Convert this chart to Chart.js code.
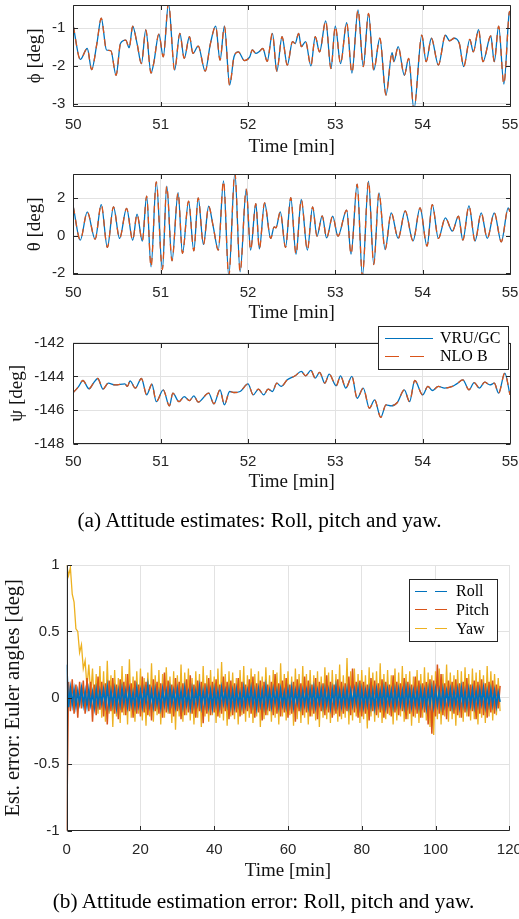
<!DOCTYPE html>
<html><head><meta charset="utf-8">
<script src="https://cdn.jsdelivr.net/npm/chart.js@4.4.1/dist/chart.umd.min.js"></script>
<style>
html,body{margin:0;padding:0;background:#fff;width:519px;height:919px;overflow:hidden}
canvas{position:absolute;left:0}
.cap{position:absolute;width:519px;text-align:center;font-family:"Liberation Serif","Times New Roman",serif;font-size:21.3px;color:#000;line-height:24px;white-space:nowrap}
</style></head><body>
<canvas id="c1" width="519" height="165" style="top:0"></canvas>
<canvas id="c2" width="519" height="165" style="top:160px"></canvas>
<canvas id="c3" width="519" height="170" style="top:325px"></canvas>
<div class="cap" style="left:0;top:508px">(a) Attitude estimates: Roll, pitch and yaw.</div>
<canvas id="c4" width="519" height="345" style="top:540px"></canvas>
<div class="cap" style="left:4px;top:889px">(b) Attitude estimation error: Roll, pitch and yaw.</div>
<script>
// ---------- data: attitude estimates ----------
const timeTicks = [50, 51, 52, 53, 54, 55];
const phiTicks = [-3, -2, -1];
const thetaTicks = [-2, 0, 2];
const psiTicks = [-148, -146, -144, -142];

const phiTime = [50.00,50.08,50.16,50.21,50.27,50.32,50.38,50.43,50.49,50.54,50.60,50.64,50.68,50.73,50.78,50.83,50.89,50.92,50.98,51.03,51.09,51.16,51.22,51.27,51.33,51.37,51.43,51.51,51.57,51.63,51.68,51.73,51.79,51.84,51.89,51.96,52.02,52.05,52.09,52.13,52.17,52.22,52.28,52.33,52.39,52.45,52.51,52.54,52.58,52.61,52.66,52.72,52.77,52.82,52.89,52.95,53.00,53.06,53.13,53.19,53.26,53.32,53.38,53.44,53.51,53.58,53.65,53.67,53.72,53.79,53.84,53.90,53.99,54.04,54.10,54.18,54.26,54.31,54.36,54.42,54.47,54.54,54.58,54.64,54.69,54.78,54.82,54.87,54.93,54.99,55.00];
const phiVru = [-0.95,-1.83,-1.54,-2.10,-1.41,-0.74,-1.58,-1.60,-2.25,-1.41,-1.32,-1.52,-0.95,-1.41,-1.94,-1.05,-2.19,-1.94,-1.16,-1.76,-0.35,-2.11,-1.14,-1.80,-1.23,-1.67,-1.48,-2.14,-1.41,-0.95,-1.85,-0.95,-2.51,-1.76,-1.63,-1.86,-1.76,-1.58,-1.67,-1.62,-1.54,-1.88,-1.14,-2.14,-1.23,-1.98,-1.36,-1.41,-1.14,-1.49,-1.36,-2.00,-1.23,-1.63,-0.81,-2.07,-0.95,-1.94,-0.86,-2.19,-0.52,-2.02,-0.61,-2.11,-1.27,-2.77,-1.65,-1.89,-1.49,-2.25,-1.80,-3.15,-1.19,-1.89,-1.27,-1.98,-1.19,-1.34,-1.27,-1.41,-2.02,-1.30,-1.63,-1.04,-1.89,-1.21,-1.89,-0.95,-2.48,-0.61,-0.55];
const phiNlo = phiVru.slice();

const thetaTime = [50.00,50.08,50.16,50.25,50.32,50.39,50.46,50.53,50.61,50.68,50.73,50.79,50.84,50.89,50.95,51.02,51.07,51.13,51.20,51.25,51.32,51.38,51.43,51.49,51.55,51.60,51.66,51.72,51.78,51.85,51.91,51.98,52.03,52.09,52.13,52.19,52.26,52.30,52.32,52.37,52.43,52.49,52.55,52.61,52.68,52.74,52.79,52.85,52.90,52.97,53.03,53.13,53.18,53.25,53.31,53.38,53.44,53.50,53.57,53.64,53.72,53.80,53.89,53.97,54.05,54.11,54.18,54.26,54.34,54.41,54.46,54.53,54.60,54.67,54.74,54.82,54.90,54.98,55.00];
const thetaVru = [1.55,-0.23,1.28,-0.18,1.67,-0.62,1.55,-0.14,1.46,-0.23,1.16,-0.28,2.12,-1.65,2.88,-1.80,2.65,-1.33,2.31,-0.94,1.85,-0.80,2.03,-0.46,1.58,0.55,-0.76,2.93,-2.15,3.35,-1.92,2.49,-0.76,1.72,-0.70,1.76,-0.14,0.48,0.43,1.28,-0.62,2.04,-0.98,1.94,-0.76,1.55,-0.02,1.07,-0.11,1.05,-0.02,1.37,-0.98,2.76,-2.15,2.92,-1.53,2.29,-0.73,1.23,-0.14,1.33,-0.27,1.49,-0.55,1.67,-0.14,0.96,0.25,1.05,-0.23,1.60,-0.28,1.23,-0.14,1.23,-0.32,1.49,1.28];
const thetaNlo = thetaVru.slice();

const psiTime = [50.00,50.06,50.11,50.18,50.23,50.28,50.34,50.40,50.48,50.59,50.62,50.65,50.71,50.78,50.84,50.90,50.95,51.03,51.10,51.14,51.21,51.27,51.33,51.38,51.43,51.55,51.61,51.68,51.73,51.79,51.84,51.91,52.00,52.06,52.12,52.18,52.23,52.28,52.33,52.38,52.45,52.51,52.54,52.61,52.66,52.72,52.77,52.82,52.88,52.93,53.01,53.06,53.12,53.19,53.25,53.32,53.39,53.45,53.52,53.58,53.64,53.71,53.79,53.85,53.91,54.00,54.06,54.11,54.18,54.25,54.34,54.39,54.46,54.53,54.59,54.65,54.71,54.77,54.82,54.87,54.94,55.00];
const psiVru = [-144.95,-144.60,-144.24,-144.73,-144.40,-144.12,-144.75,-144.40,-144.50,-144.44,-144.59,-144.26,-144.69,-144.12,-145.09,-144.46,-145.49,-144.79,-145.74,-144.99,-145.49,-145.19,-145.43,-145.15,-145.52,-144.99,-145.62,-144.79,-145.68,-144.89,-144.95,-144.89,-144.44,-145.09,-144.75,-145.09,-144.75,-144.89,-144.40,-144.59,-144.20,-144.04,-143.96,-143.70,-143.96,-143.64,-144.10,-143.76,-144.40,-143.86,-144.55,-143.96,-144.69,-144.00,-145.29,-144.69,-145.88,-145.39,-146.42,-145.68,-145.74,-145.54,-144.79,-145.49,-144.24,-145.09,-144.59,-144.83,-144.59,-144.69,-144.59,-144.44,-144.20,-144.79,-144.36,-144.69,-144.34,-144.50,-144.40,-144.99,-143.80,-145.09];
const psiNlo = psiVru.slice();

// ---------- data: estimation error (alternating upper / lower samples every 0.5 min) ----------
const errTicksX = [0, 20, 40, 60, 80, 100, 120];
const errTicksY = [-1, -0.5, 0, 0.5, 1];
const rollErr = [
0.25,-0.07,0.07,-0.05,0.06,-0.06,0.05,-0.04,0.07,-0.05,
0.05,-0.06,0.06,-0.05,0.04,-0.07,0.06,-0.05,0.05,-0.04,
0.06,-0.05,0.08,-0.06,0.05,-0.05,0.06,-0.07,0.05,-0.05,
0.07,-0.04,0.05,-0.06,0.06,-0.05,0.04,-0.06,0.07,-0.05,
0.05,-0.06,0.06,-0.04,0.09,-0.05,0.05,-0.06,0.06,-0.05,
0.04,-0.07,0.06,-0.05,0.05,-0.06,0.07,-0.04,0.05,-0.06,
0.06,-0.05,0.05,-0.06,0.07,-0.05,0.04,-0.07,0.06,-0.05,
0.05,-0.04,0.08,-0.06,0.05,-0.05,0.06,-0.06,0.05,-0.07,
0.06,-0.05,0.05,-0.06,0.07,-0.04,0.05,-0.05,0.06,-0.06,
0.05,-0.06,0.06,-0.05,0.04,-0.06,0.07,-0.05,0.05,-0.04,
0.07,-0.05,0.05,-0.07,0.06,-0.05,0.05,-0.06,0.08,-0.05,
0.05,-0.06,0.06,-0.04,0.05,-0.06,0.06,-0.05,0.04,-0.06,
0.06,-0.05,0.07,-0.06,0.05,-0.04,0.06,-0.06,0.05,-0.05,
0.05,-0.06,0.06,-0.05,0.07,-0.06,0.05,-0.04,0.06,-0.06,
0.06,-0.05,0.05,-0.07,0.06,-0.05,0.08,-0.05,0.05,-0.06,
0.05,-0.05,0.06,-0.06,0.05,-0.05,0.06,-0.04,0.07,-0.06,
0.06,-0.06,0.05,-0.05,0.06,-0.06,0.05,-0.07,0.06,-0.05,
0.05,-0.05,0.07,-0.06,0.06,-0.04,0.05,-0.06,0.06,-0.05,
0.06,-0.05,0.05,-0.06,0.07,-0.05,0.06,-0.06,0.05,-0.05,
0.05,-0.06,0.06,-0.05,0.05,-0.07,0.06,-0.05,0.07,-0.06,
0.06,-0.05,0.05,-0.06,0.06,-0.05,0.05,-0.04,0.06,-0.06,
0.05,-0.05,0.06,-0.06,0.07,-0.05,0.05,-0.06,0.06,-0.05,
0.06,-0.06,0.05,-0.05,0.06,-0.04,0.07,-0.06,0.05,-0.05,
0.06,-0.05,0.05,-0.06,0.04,-0.03];
const pitchErr = [
-1.0,0.12,-0.10,0.14,-0.12,0.10,-0.15,0.12,-0.08,0.13,
-0.12,0.15,-0.10,0.12,-0.18,0.10,-0.13,0.16,-0.09,0.12,
-0.14,0.11,-0.20,0.13,-0.10,0.15,-0.12,0.10,-0.16,0.14,
-0.11,0.12,-0.13,0.18,-0.10,0.11,-0.15,0.13,-0.12,0.10,
-0.14,0.16,-0.11,0.12,-0.13,0.10,-0.17,0.14,-0.10,0.12,
-0.12,0.11,-0.15,0.19,-0.11,0.13,-0.12,0.10,-0.14,0.15,
-0.10,0.12,-0.16,0.11,-0.13,0.14,-0.11,0.17,-0.12,0.10,
-0.15,0.13,-0.10,0.12,-0.19,0.11,-0.12,0.15,-0.13,0.12,
-0.11,0.14,-0.14,0.10,-0.12,0.16,-0.10,0.12,-0.16,0.13,
-0.13,0.11,-0.11,0.15,-0.14,0.12,-0.12,0.10,-0.10,0.14,
-0.12,0.16,-0.15,0.11,-0.11,0.13,-0.17,0.12,-0.13,0.10,
-0.10,0.12,-0.13,0.18,-0.12,0.11,-0.14,0.13,-0.11,0.15,
-0.15,0.10,-0.12,0.12,-0.18,0.14,-0.10,0.11,-0.13,0.16,
-0.11,0.13,-0.14,0.10,-0.12,0.15,-0.16,0.12,-0.10,0.11,
-0.13,0.17,-0.11,0.12,-0.15,0.10,-0.12,0.14,-0.14,0.12,
-0.12,0.11,-0.10,0.16,-0.13,0.22,-0.11,0.12,-0.15,0.13,
-0.14,0.12,-0.12,0.10,-0.17,0.15,-0.10,0.13,-0.13,0.11,
-0.11,0.14,-0.15,0.12,-0.12,0.10,-0.14,0.17,-0.11,0.12,
-0.13,0.11,-0.10,0.15,-0.16,0.12,-0.12,0.10,-0.14,0.16,
-0.12,0.13,-0.15,0.11,-0.11,0.12,-0.20,0.14,-0.27,0.13,
-0.14,0.25,-0.12,0.18,-0.13,0.11,-0.16,0.13,-0.10,0.12,
-0.12,0.14,-0.13,0.11,-0.15,0.12,-0.11,0.15,-0.14,0.10,
-0.10,0.13,-0.16,0.12,-0.12,0.14,-0.13,0.11,-0.15,0.12,
-0.11,0.13,-0.12,0.10,-0.08,0.09];
const yawErr = [
1.00,0.92,0.98,0.78,0.72,0.52,0.50,0.34,0.40,0.22,
0.28,0.08,0.25,0.02,0.22,-0.08,0.18,-0.12,0.24,-0.15,
0.20,-0.18,0.28,-0.12,0.17,-0.22,0.21,-0.14,0.15,-0.19,
0.24,-0.13,0.18,-0.20,0.29,-0.15,0.16,-0.18,0.20,-0.12,
0.22,-0.17,0.15,-0.21,0.19,-0.14,0.26,-0.18,0.17,-0.13,
0.21,-0.20,0.18,-0.15,0.23,-0.12,0.16,-0.19,0.20,-0.24,
0.17,-0.14,0.25,-0.18,0.19,-0.13,0.22,-0.17,0.15,-0.20,
0.20,-0.15,0.18,-0.22,0.24,-0.14,0.17,-0.18,0.21,-0.13,
0.16,-0.19,0.22,-0.15,0.27,-0.17,0.18,-0.21,0.20,-0.14,
0.19,-0.16,0.15,-0.20,0.21,-0.13,0.24,-0.18,0.17,-0.15,
0.22,-0.19,0.18,-0.14,0.20,-0.22,0.16,-0.16,0.23,-0.13,
0.17,-0.18,0.21,-0.15,0.19,-0.20,0.26,-0.14,0.18,-0.17,
0.20,-0.13,0.16,-0.21,0.22,-0.16,0.18,-0.19,0.24,-0.15,
0.18,-0.20,0.21,-0.14,0.17,-0.17,0.20,-0.22,0.16,-0.15,
0.23,-0.16,0.19,-0.19,0.21,-0.13,0.18,-0.18,0.25,-0.16,
0.17,-0.15,0.30,-0.20,0.20,-0.17,0.22,-0.14,0.18,-0.19,
0.21,-0.16,0.17,-0.23,0.23,-0.14,0.19,-0.18,0.20,-0.15,
0.26,-0.19,0.18,-0.16,0.21,-0.13,0.17,-0.20,0.22,-0.17,
0.19,-0.14,0.24,-0.18,0.18,-0.16,0.20,-0.21,0.16,-0.15,
0.21,-0.19,0.18,-0.15,0.23,-0.17,0.19,-0.22,0.17,-0.28,
0.20,-0.16,0.22,-0.20,0.18,-0.14,0.25,-0.18,0.19,-0.16,
0.17,-0.21,0.21,-0.15,0.20,-0.18,0.23,-0.14,0.18,-0.17,
0.22,-0.16,0.19,-0.20,0.21,-0.15,0.17,-0.19,0.24,-0.14,
0.20,-0.17,0.18,-0.13,0.15,-0.10];
const errTime = rollErr.map((_, i) => i * 0.5);

// ---------- styling ----------
const BLUE = '#0072BD', ORANGE = '#D95319', YELLOW = '#EDB120', AXIS = '#262626', GRID = '#e2e2e2';
const TICK_FONT = {family: '"Liberation Sans", Arial, sans-serif', size: 15};
const TITLE_FONT = {family: '"Liberation Serif", "Times New Roman", serif', size: 19};
const LEG_FONT = '16px "Liberation Serif", "Times New Roman", serif';

const deco = {
  id: 'deco',
  afterDatasetsDraw(chart, args, o) {
    const {ctx, chartArea: a, scales: {x, y}} = chart;
    const L = Math.round(a.left) + 0.5, R = Math.round(a.right) + 0.5;
    const T = Math.round(a.top) + 0.5, B = Math.round(a.bottom) - 0.5;
    const TL = 4.5;
    ctx.save();
    ctx.strokeStyle = AXIS; ctx.lineWidth = 1; ctx.setLineDash([]);
    ctx.beginPath();
    x.ticks.forEach(t => {
      const p = Math.round(x.getPixelForValue(t.value)) + 0.5;
      ctx.moveTo(p, B); ctx.lineTo(p, B - TL);
      if (o.box) { ctx.moveTo(p, T); ctx.lineTo(p, T + TL); }
    });
    y.ticks.forEach(t => {
      const p = Math.round(y.getPixelForValue(t.value)) + 0.5;
      ctx.moveTo(L, p); ctx.lineTo(L + TL, p);
      if (o.box) { ctx.moveTo(R, p); ctx.lineTo(R - TL, p); }
    });
    ctx.moveTo(L, T); ctx.lineTo(L, B); ctx.lineTo(R, B);
    if (o.box) { ctx.lineTo(R, T); ctx.lineTo(L, T); }
    ctx.stroke();
    ctx.restore();
  },
  afterDraw(chart, args, o) {
    const lg = o.legend;
    if (!lg) return;
    const ctx = chart.ctx;
    ctx.save();
    ctx.fillStyle = '#fff';
    ctx.fillRect(lg.x, lg.y, lg.w, lg.h);
    ctx.strokeStyle = AXIS; ctx.lineWidth = 1;
    ctx.strokeRect(lg.x + 0.5, lg.y + 0.5, lg.w, lg.h);
    lg.items.forEach((it, i) => {
      const ds = chart.data.datasets[it.ds];
      const yy = Math.round(lg.rowY[i]) + 0.5;
      ctx.strokeStyle = ds.borderColor; ctx.lineWidth = 1.2;
      ctx.setLineDash(it.dash || []);
      ctx.beginPath(); ctx.moveTo(lg.lx1, yy); ctx.lineTo(lg.lx2, yy); ctx.stroke();
      ctx.setLineDash([]);
      ctx.fillStyle = '#000'; ctx.font = LEG_FONT; ctx.textBaseline = 'middle'; ctx.textAlign = 'left';
      ctx.fillText(ds.label, lg.tx, lg.rowY[i] + 1);
    });
    ctx.restore();
  }
};

function makeChart(id, c) {
  const top = c.canvasTop, H = c.canvasH;
  new Chart(document.getElementById(id), {
    type: 'line',
    data: {datasets: c.datasets},
    plugins: [deco],
    options: {
      responsive: false, animation: false, events: [],
      layout: {padding: {left: 0, right: 519 - c.areaRight, top: c.areaTop - top, bottom: 0}},
      plugins: {legend: {display: false}, tooltip: {enabled: false}, deco: {box: c.box, legend: c.legend}},
      elements: {point: {radius: 0}},
      scales: {
        x: {
          type: 'linear', min: c.xMin, max: c.xMax,
          afterBuildTicks: s => { s.ticks = c.xTicks.map(v => ({value: v})); },
          afterFit: s => { s.height = H - (c.areaBottom - top); s.paddingLeft = 0; s.paddingRight = 0; },
          grid: {color: GRID, lineWidth: 1, drawTicks: false},
          border: {display: false},
          ticks: {padding: c.xLabelPad, maxRotation: 0, autoSkip: false, font: TICK_FONT, color: AXIS, callback: v => String(v)},
          title: {display: true, text: 'Time [min]', font: TITLE_FONT, color: '#111', padding: {top: 0, bottom: c.xTitlePad}}
        },
        y: {
          type: 'linear', min: c.yMin, max: c.yMax,
          afterBuildTicks: s => { s.ticks = c.yTicks.map(v => ({value: v})); },
          afterFit: s => { s.width = c.areaLeft; s.paddingTop = 0; s.paddingBottom = 0; },
          grid: {color: GRID, lineWidth: 1, drawTicks: false},
          border: {display: false},
          ticks: {padding: c.yLabelPad, autoSkip: false, font: TICK_FONT, color: AXIS, callback: v => String(v)},
          title: {display: true, text: c.yTitle, font: c.yTitleFont || TITLE_FONT, color: '#111', padding: {top: c.yTitlePad, bottom: 0}}
        }
      }
    }
  });
}

function pts(t, v) { return t.map((x, i) => ({x: x, y: v[i]})); }
function estSets(t, vru, nlo) {
  return [
    {label: 'VRU/GC', data: pts(t, vru), borderColor: BLUE, borderWidth: 1.3, cubicInterpolationMode: 'monotone', order: 2},
    {label: 'NLO B', data: pts(t, nlo), borderColor: ORANGE, borderWidth: 1.3, borderDash: [7, 6], cubicInterpolationMode: 'monotone', order: 1}
  ];
}

makeChart('c1', {canvasTop: 0, canvasH: 165, areaLeft: 73.3, areaRight: 510, areaTop: 5, areaBottom: 106.7,
  xMin: 50, xMax: 55, xTicks: timeTicks, yMin: -3.08, yMax: -0.39, yTicks: phiTicks,
  xLabelPad: 9, xTitlePad: 6.6, yLabelPad: 8, yTitlePad: 23.6, yTitle: 'ϕ [deg]', box: true,
  datasets: estSets(phiTime, phiVru, phiNlo)});

makeChart('c2', {canvasTop: 160, canvasH: 165, areaLeft: 73.3, areaRight: 510, areaTop: 174, areaBottom: 274.8,
  xMin: 50, xMax: 55, xTicks: timeTicks, yMin: -2.08, yMax: 3.3, yTicks: thetaTicks,
  xLabelPad: 9, xTitlePad: 0.6, yLabelPad: 8, yTitlePad: 24, yTitle: 'θ [deg]', box: true,
  datasets: estSets(thetaTime, thetaVru, thetaNlo)});

makeChart('c3', {canvasTop: 325, canvasH: 170, areaLeft: 73.3, areaRight: 510, areaTop: 342.7, areaBottom: 444,
  xMin: 50, xMax: 55, xTicks: timeTicks, yMin: -148, yMax: -142, yTicks: psiTicks,
  xLabelPad: 9, xTitlePad: 1.6, yLabelPad: 9, yTitlePad: 5.6, yTitle: 'ψ [deg]', box: true,
  datasets: estSets(psiTime, psiVru, psiNlo),
  legend: {x: 378, y: 1, w: 130, h: 43, lx1: 385, lx2: 433, tx: 440, rowY: [12.5, 31],
    items: [{ds: 0}, {ds: 1, dash: [14, 11]}]}});

makeChart('c4', {canvasTop: 540, canvasH: 345, areaLeft: 66.7, areaRight: 509.3, areaTop: 565, areaBottom: 830.7,
  xMin: 0, xMax: 120, xTicks: errTicksX, yMin: -1, yMax: 1, yTicks: errTicksY,
  xLabelPad: 10, xTitlePad: 2.6, yLabelPad: 7, yTitlePad: 1.5,
  yTitle: 'Est. error: Euler angles [deg]', yTitleFont: {family: '"Liberation Serif", "Times New Roman", serif', size: 20.5},
  box: false,
  datasets: [
    {label: 'Roll', data: pts(errTime, rollErr), borderColor: BLUE, borderWidth: 1.7},
    {label: 'Pitch', data: pts(errTime, pitchErr), borderColor: ORANGE, borderWidth: 1.5},
    {label: 'Yaw', data: pts(errTime, yawErr), borderColor: YELLOW, borderWidth: 1.3}
  ],
  legend: {x: 409, y: 39, w: 88, h: 62, lx1: 415, lx2: 448, tx: 456, rowY: [50.7, 69.3, 88.3],
    items: [{ds: 0, dash: [12, 8]}, {ds: 1, dash: [12, 8]}, {ds: 2, dash: [12, 8]}]}});
</script>
</body></html>
